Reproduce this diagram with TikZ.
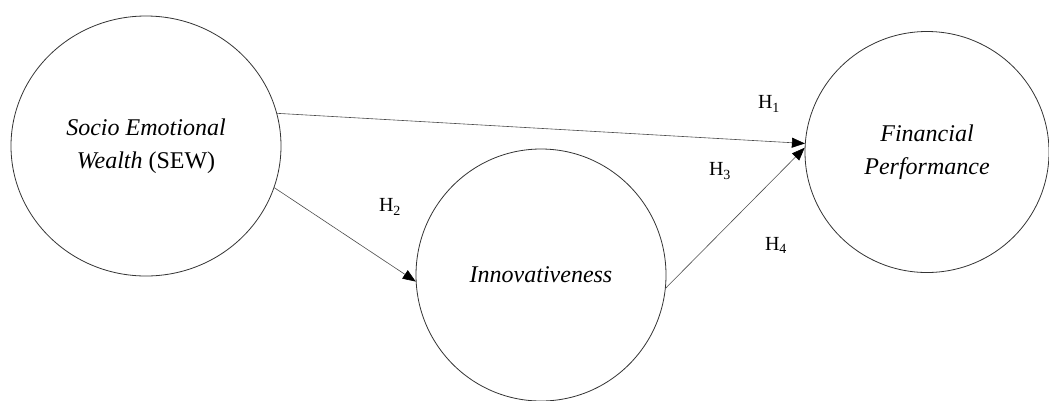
\documentclass[tikz,border=0pt]{standalone}
\usepackage{fontspec}
\setmainfont{Liberation Serif}[ItalicFont={Liberation Serif Italic}]
\usetikzlibrary{shapes.geometric,arrows.meta}

\tikzset{
  construct/.style={ellipse, draw=black!80, line width=0.8pt, inner sep=0pt,
    font=\fontsize{24}{33}\selectfont\itshape, align=center},
  hyp/.style={draw=black!70, line width=0.6pt,
    -{Triangle[length=13pt,width=10pt,color=black]}},
  hlab/.style={font=\fontsize{20}{22}\selectfont, inner sep=1pt}
}

\begin{document}
\begin{tikzpicture}[x=1pt,y=-1pt, line cap=round, line join=round]

\useasboundingbox (0,0) rectangle (1049,400);
\clip (0,0) rectangle (1049,400);

% 三个构念
\node[construct, minimum width=270pt, minimum height=260pt] (sew) at (146,146)
  {Socio Emotional\\Wealth \textup{(SEW)}};
\node[construct, minimum width=250pt, minimum height=252pt] (inno) at (541,275)
  {Innovativeness};
\node[construct, minimum width=244pt, minimum height=241pt] (fin) at (927,152)
  {Financial\\Performance};

% 假设路径
\draw[hyp] (sew.14.4)  -- (fin.176.6);
\draw[hyp] (sew.-18.7) -- (inno.183);
\draw[hyp] (inno.-6.4) -- (fin.178.6);

% 标注
\node[hlab] (h1) at (769,104) {H\textsubscript{1}};
\node[hlab] (h2) at (390,207) {H\textsubscript{2}};
\node[hlab] (h3) at (720,171) {H\textsubscript{3}};
\node[hlab] (h4) at (776,245) {H\textsubscript{4}};

\end{tikzpicture}
\end{document}
